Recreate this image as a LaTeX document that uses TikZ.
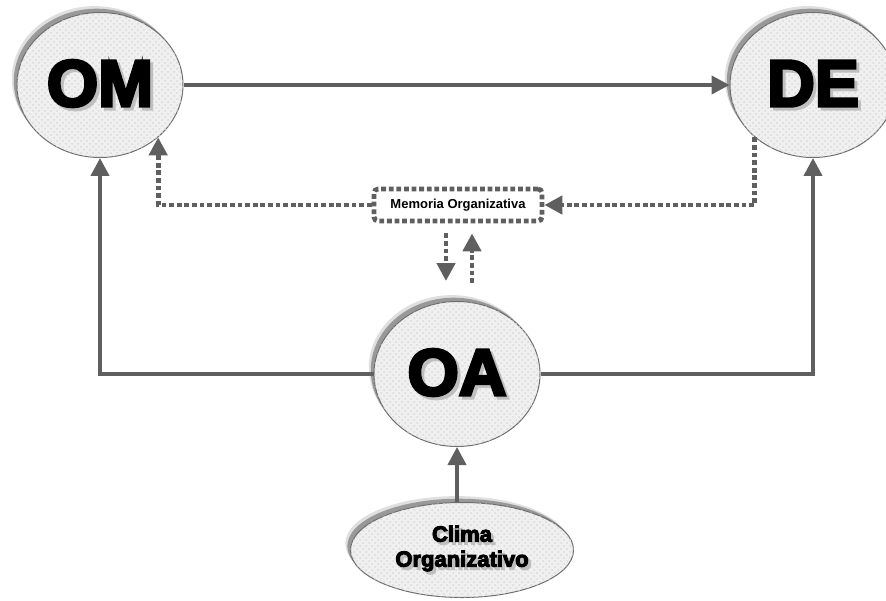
\documentclass[tikz,border=0pt]{standalone}
\usepackage{fontspec}
\newfontfamily\heavyfont[FakeBold=4.5]{Liberation Sans}
\newfontfamily\labelfont{Liberation Sans}
\usetikzlibrary{shapes.geometric,shadows,arrows.meta,patterns}
\definecolor{linegray}{HTML}{5F5F5F}
\definecolor{rimgray}{HTML}{6E6E6E}
\newcommand{\shtext}[1]{\rlap{\hspace{1.5pt}\raisebox{-1.5pt}{\color{gray!50}#1}}#1}

\tikzset{
  bubble/.style={ellipse, draw=rimgray, line width=0.5pt, fill=gray!12, inner sep=0pt,
    minimum width=83pt, minimum height=72.5pt,
    general shadow={shadow xshift=-2.6pt, shadow yshift=3.2pt, fill=gray!25, draw=none},
    general shadow={shadow xshift=-1.6pt, shadow yshift=1.9pt, fill=gray!80, draw=none},
    postaction={pattern=crosshatch dots, pattern color=gray!30},
    font=\heavyfont\bfseries\fontsize{33}{36}\selectfont},
  memo/.style={rectangle, draw=linegray, line width=2.4pt, dash pattern=on 2.4pt off 1.4pt,
    rounded corners=2pt, fill=white, minimum width=84pt, minimum height=16pt, inner sep=0pt,
    font=\labelfont\bfseries\fontsize{6.5}{7}\selectfont},
  flow/.style={draw=linegray, line width=2pt, -{Triangle[length=9pt,width=9pt]}},
  dotflow/.style={flow, line width=2.4pt, dash pattern=on 2.4pt off 1.4pt}
}

\begin{document}
\begin{tikzpicture}[x=0.5pt, y=0.5pt]
      \useasboundingbox (0, 0) rectangle (886, 600);

      \node (OM) [bubble] at (100, 515) {\shtext{OM}};
      \node (DE) [bubble] at (813, 515) {\shtext{DE}};
      \node (OA) [bubble] at (457, 226) {\shtext{OA}};
      \node (CO) [bubble, minimum width=111.5pt, minimum height=47.5pt, align=center,
        font=\heavyfont\bfseries\fontsize{11}{12.5}\selectfont] at (462, 50) {
        \shtext{Clima}\\
        \shtext{Organizativo}
      };
      \node (MO) [memo] at (458, 395) {Memoria Organizativa};

      \coordinate (MOd) at (446, 319);
      \coordinate (MOu) at (472, 317);

      \draw[flow] (OM.east) -- (DE.west);
      \draw[flow] (OA.west) -| (OM.south);
      \draw[flow] (OA.east) -| (DE.south);
      \draw[flow] (OA.south |- CO.north) -- (OA.south);

      \draw[dotflow] (MO.west) -| (OM.-42);
      \draw[dotflow] (DE.-138) |- (MO.east);
      \draw[dotflow, shorten <=5pt] (MOd |- MO.south) -- (MOd);
      \draw[dotflow, shorten >=5pt] (MOu) -- (MOu |- MO.south);
    \end{tikzpicture}
\end{document}
